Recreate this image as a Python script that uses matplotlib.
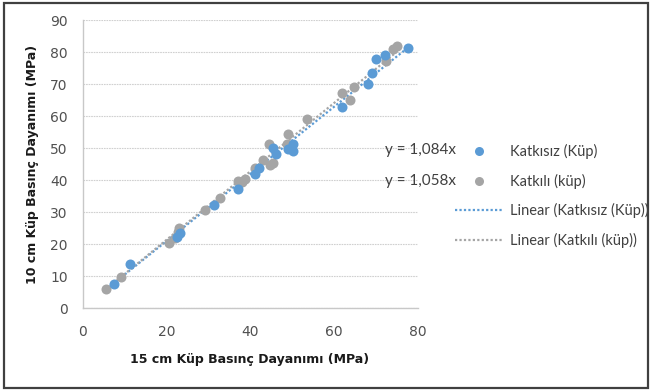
import numpy as np
import matplotlib
matplotlib.use("Agg")
import matplotlib.pyplot as plt
from matplotlib.lines import Line2D
from matplotlib.patches import Rectangle

plt.rcParams['font.family'] = ['Lato', 'DejaVu Sans']

# Data: 15 cm cube (x) vs 10 cm cube (y) compressive strength (MPa)
katkisiz_x = [7.5, 11.3, 22.4, 23.2, 31.2, 37.1, 41.1, 42.1, 45.3, 46.1,
              49.0, 50.1, 50.2, 61.9, 68.1, 68.9, 69.9, 72.1, 77.6]
katkisiz_y = [7.6, 13.6, 22.2, 23.5, 32.1, 37.3, 41.8, 43.8, 50.0, 48.0,
              49.7, 49.2, 51.3, 62.8, 70.1, 73.5, 77.7, 79.0, 81.2]
katkili_x = [5.6, 9.1, 20.6, 22.0, 22.8, 23.0, 29.2, 32.8, 37.0, 37.9,
             38.7, 41.0, 43.0, 44.5, 44.6, 45.4, 48.7, 49.0, 53.5, 61.9,
             63.7, 64.7, 72.3, 74.0, 75.0]
katkili_y = [5.9, 9.7, 20.2, 22.0, 23.8, 25.0, 30.5, 34.3, 39.7, 39.3,
             40.3, 43.8, 46.3, 51.3, 44.8, 45.3, 51.3, 54.3, 59.1, 67.2,
             65.1, 69.1, 77.2, 80.8, 81.8]
eq_labels = ["y = 1,084x", "y = 1,058x"]
series_names = ["Katkısız (Küp)", "Katkılı (küp)"]
x_ticks = [0, 20, 40, 60, 80]
y_ticks = [0, 10, 20, 30, 40, 50, 60, 70, 80, 90]

BLUE = "#5B9BD5"
GREY = "#A5A5A5"
TXT = "#404040"

W, H = 652, 391
fig = plt.figure(figsize=(W / 100, H / 100), dpi=100)
ax = fig.add_axes([83 / W, 1 - 308 / H, (418 - 83) / W, (308 - 20) / H])

# gridlines
ax.set_axisbelow(True)
ax.yaxis.grid(True, color="#D0D0D0", linewidth=0.8, linestyle=(0, (1.5, 0.8)))
ax.xaxis.grid(False)

def fit_origin(x, y):
    x = np.asarray(x); y = np.asarray(y)
    return np.sum(x * y) / np.sum(x * x)

for xs, ys, c in [(katkisiz_x, katkisiz_y, BLUE), (katkili_x, katkili_y, GREY)]:
    m = fit_origin(xs, ys)
    xl = np.array([min(xs), max(xs)])
    ax.plot(xl, m * xl, color=c, linewidth=1.6, linestyle=(0, (1, 1)), zorder=2)

ax.scatter(katkili_x, katkili_y, s=52, color=GREY, zorder=3, linewidths=0)
ax.scatter(katkisiz_x, katkisiz_y, s=52, color=BLUE, zorder=4, linewidths=0)

ax.set_xlim(0, 80)
ax.set_ylim(0, 90)
ax.set_xticks(x_ticks)
ax.set_yticks(y_ticks)
ax.tick_params(length=0, labelsize=10, colors="#505050", pad=11)
ax.tick_params(axis='x', pad=12)
for lab in ax.get_xticklabels() + ax.get_yticklabels():
    lab.set_family("DejaVu Sans")
for s in ["top", "right"]:
    ax.spines[s].set_visible(False)
for s in ["left", "bottom"]:
    ax.spines[s].set_color("#C8C8C8")
    ax.spines[s].set_linewidth(1.0)

fig.text(33 / W, 1 - 164 / H, "10 cm Küp Basınç Dayanımı (MPa)", rotation=90,
         ha="center", va="center", fontsize=9, fontweight="bold", color="#1a1a1a",
         family="DejaVu Sans")
fig.text(250 / W, 1 - 359 / H, "15 cm Küp Basınç Dayanımı (MPa)",
         ha="center", va="center", fontsize=9, fontweight="bold", color="#1a1a1a",
         family="DejaVu Sans")

# equation labels
fig.text(385 / W, 1 - 150 / H, eq_labels[0], ha="left", va="center", fontsize=11, color=TXT)
fig.text(385 / W, 1 - 181 / H, eq_labels[1], ha="left", va="center", fontsize=11, color=TXT)

handles = [
    Line2D([], [], linestyle="none", marker="o", markersize=6.5, color=BLUE, markeredgewidth=0),
    Line2D([], [], linestyle="none", marker="o", markersize=6.5, color=GREY, markeredgewidth=0),
    Line2D([], [], color=BLUE, linewidth=1.6, linestyle=(0, (1, 1))),
    Line2D([], [], color=GREY, linewidth=1.6, linestyle=(0, (1, 1))),
]
labels = [series_names[0], series_names[1],
          "Linear (" + series_names[0] + ")", "Linear (" + series_names[1] + ")"]
fig.legend(handles, labels, loc="upper left", bbox_to_anchor=(455 / W, 1 - 144 / H),
           frameon=False, fontsize=10.5, handlelength=3.3, handletextpad=0.48,
           labelspacing=1.0, borderpad=0, borderaxespad=0, labelcolor=TXT)

fig.patches.append(Rectangle((4 / W, 3 / H), (648 - 4) / W, (388 - 3) / H,
                             transform=fig.transFigure, fill=False,
                             edgecolor="#404040", linewidth=1.6))

fig.savefig("out.png", dpi=100)
